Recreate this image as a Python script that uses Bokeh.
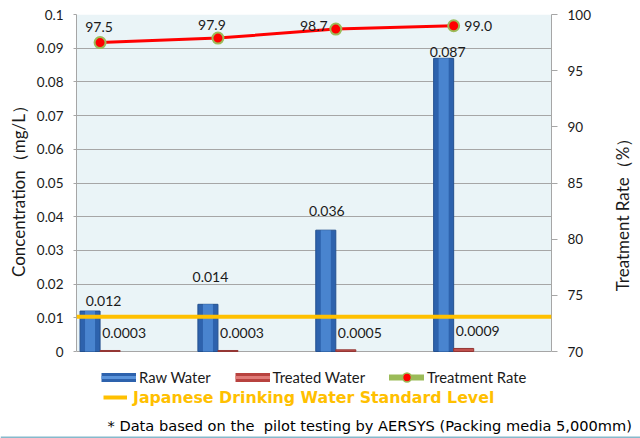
import math
import numpy as np
from bokeh.plotting import figure
from bokeh.layouts import row, column
from bokeh.models import (Range1d, LinearAxis, FixedTicker, CustomJSTickFormatter,
                          ColumnDataSource, Span, Legend, LegendItem, BoxAnnotation, Label)
from bokeh.core.properties import value
from bokeh.embed import file_html
from bokeh.resources import INLINE

# ---------------- data ----------------
groups = [0, 1, 2, 3]
raw_water = [0.012, 0.014, 0.036, 0.087]
treated_water = [0.0003, 0.0003, 0.0005, 0.0009]
treatment_rate = [97.5, 97.9, 98.7, 99.0]
raw_labels = ["0.012", "0.014", "0.036", "0.087"]
treated_labels = ["0.0003", "0.0003", "0.0005", "0.0009"]
rate_labels = ["97.5", "97.9", "98.7", "99.0"]
standard_level = 0.0103
conc_min, conc_max = 0, 0.1
rate_min, rate_max = 70, 100
conc_ticks = [0, 0.01, 0.02, 0.03, 0.04, 0.05, 0.06, 0.07, 0.08, 0.09, 0.1]
rate_ticks = [70, 75, 80, 85, 90, 95, 100]

# ---------------- layout / style ----------------
W, H = 640, 438
SIDE_W = 40
FOOT_H = 28
MAIN_H = H - FOOT_H
TOP, PLOT_BOTTOM, FRAME_BOTTOM = 14, 351, MAIN_H
LEFT, RIGHT = 76, 551
plot_h = PLOT_BOTTOM - TOP
extra = (FRAME_BOTTOM - PLOT_BOTTOM) / plot_h
BAR_W = 0.17
raw_dx = [13.5, 2.5, 1, 4]
raw_dy = [10, 27, 19, 6]
rate_dx = [-1, -6, -22, 24.5]
rate_dy = [16, 13, 3, 0]
CAL = "Lato"
ARI = "DejaVu Sans"
GRID = "#A6A6A6"
INK = "#1a1a1a"

g = np.array(groups, dtype=float)
src = ColumnDataSource(dict(
    x_raw=g - BAR_W / 2, x_tr=g + BAR_W / 2, x=g,
    raw=raw_water, tr=treated_water, rate=treatment_rate,
    raw_lbl=raw_labels, tr_lbl=treated_labels, rate_lbl=rate_labels,
    raw_dx=raw_dx, raw_dy=[-d for d in raw_dy],
    tr_dx=[14] * 4, tr_dy=[-17] * 4,
    rate_dx=rate_dx, rate_dy=[-d for d in rate_dy],
))

y0 = conc_min - (conc_max - conc_min) * extra
r0 = rate_min - (rate_max - rate_min) * extra
MAIN_W = W - SIDE_W
p = figure(width=MAIN_W, height=MAIN_H, output_backend="svg", toolbar_location=None,
           x_range=Range1d(-0.2, 3.83), y_range=Range1d(y0, conc_max), x_axis_location=None,
           min_border_left=LEFT, min_border_right=MAIN_W - RIGHT, min_border_top=TOP,
           min_border_bottom=0)
p.extra_y_ranges = {"rate": Range1d(r0, rate_max)}
p.background_fill_color = "white"
p.border_fill_color = "white"
p.outline_line_color = None
p.xgrid.grid_line_color = None
p.ygrid.grid_line_color = GRID
p.ygrid.ticker = FixedTicker(ticks=conc_ticks)
p.add_layout(BoxAnnotation(bottom=conc_min, top=conc_max, fill_color="#EAF4F7", fill_alpha=1,
                           line_color=None, level="image"))

ya = p.yaxis[0]
ya.ticker = FixedTicker(ticks=conc_ticks)
ya.bounds = (conc_min, conc_max)
ya.formatter = CustomJSTickFormatter(code="return String(Math.round(tick*1000)/1000)")
ya.axis_label = "\u2003" * 4 + "Concentration（mg/L）"
ya.axis_label_standoff = 5
ya.axis_label_text_font = CAL
ya.axis_label_text_font_size = "17px"
ya.axis_label_text_font_style = "normal"
ya.axis_label_text_color = INK

ra = LinearAxis(y_range_name="rate", ticker=FixedTicker(ticks=rate_ticks), bounds=(rate_min, rate_max))
p.add_layout(ra, "right")

for ax, tout in ((ya, 3), (ra, 6)):
    ax.major_tick_out = tout
    ax.major_tick_in = 0
    ax.minor_tick_out = 0
    ax.minor_tick_in = 0
    ax.major_label_standoff = 10
    ax.axis_line_color = GRID
    ax.major_tick_line_color = GRID
    ax.major_label_text_font = CAL
    ax.major_label_text_font_size = "13.5px"
    ax.major_label_text_color = INK

# bars
p.vbar(x="x_raw", top="raw", width=BAR_W, bottom=0, source=src,
       fill_color="#2D62AD", line_color="#24518F", line_width=1)
p.vbar(x="x_raw", top="raw", width=BAR_W * 0.5, bottom=0, source=src,
       fill_color="#4C88D3", line_color=None, fill_alpha=0.9)
p.vbar(x="x_tr", top="tr", width=BAR_W, bottom=0, source=src,
       fill_color="#C0504D", line_color="#943634", line_width=1)

# standard level
p.add_layout(Span(location=standard_level, dimension="width", line_color="#FFC000", line_width=4))

# treatment rate
p.line(x="x", y="rate", source=src, y_range_name="rate", line_color="#FF0000", line_width=3)
p.scatter(x="x", y="rate", source=src, y_range_name="rate", size=11,
          fill_color="#FF0000", line_color="#9BBB59", line_width=2)

txt = dict(text_font=value(CAL), text_font_size="14px", text_color=INK,
           text_align="center", text_baseline="middle")
p.text(x="x_raw", y="raw", text="raw_lbl", x_offset="raw_dx", y_offset="raw_dy", source=src, **txt)
p.text(x="x_tr", y="tr", text="tr_lbl", x_offset="tr_dx", y_offset="tr_dy", source=src, **txt)
p.text(x="x", y="rate", text="rate_lbl", x_offset="rate_dx", y_offset="rate_dy", source=src,
       y_range_name="rate", **txt)

# legend swatches (renderers without visible data)
empty = ColumnDataSource(dict(x=[np.nan], y=[np.nan]))
lw = dict(line_cap="butt")
s_raw1 = p.line(x="x", y="y", source=empty, line_color="#2D62AD", line_width=9, **lw)
s_raw2 = p.line(x="x", y="y", source=empty, line_color="#5B94DB", line_width=3, **lw)
s_tr1 = p.line(x="x", y="y", source=empty, line_color="#B8423F", line_width=9, **lw)
s_tr2 = p.line(x="x", y="y", source=empty, line_color="#E07B78", line_width=3, **lw)
s_rate1 = p.line(x="x", y="y", source=empty, line_color="#9BBB59", line_width=6, line_cap="round")
s_rate2 = p.scatter(x="x", y="y", source=empty, fill_color="#FF0000", line_color="#9BBB59", line_width=1.5)
s_std = p.line(x="x", y="y", source=empty, line_color="#FFC000", line_width=4, **lw)

legA = Legend(items=[LegendItem(label="Raw Water", renderers=[s_raw1, s_raw2]),
                     LegendItem(label="Treated Water", renderers=[s_tr1, s_tr2]),
                     LegendItem(label="Treatment Rate", renderers=[s_rate1, s_rate2])],
              location=(25, 22), glyph_width=35, glyph_height=22, label_height=22,
              label_standoff=3, spacing=24, padding=0, margin=0, border_line_color=None,
              background_fill_alpha=0, label_text_font=CAL, label_text_font_size="14.8px",
              label_text_color=INK, orientation="horizontal")
legC = Legend(items=[LegendItem(label="Japanese Drinking Water Standard Level", renderers=[s_std])],
              location=(27, 3), glyph_width=24, glyph_height=20, label_height=20,
              label_standoff=6, spacing=0, padding=0, margin=0, border_line_color=None,
              background_fill_alpha=0, label_text_font=ARI, label_text_font_size="15.8px",
              label_text_font_style="bold", label_text_color="#FFC000", orientation="horizontal")
p.add_layout(legA, "center")
p.add_layout(legC, "center")

# right-hand title strip (rotated text reading upwards)
side = figure(width=SIDE_W, height=MAIN_H, output_backend="svg", toolbar_location=None,
              x_range=Range1d(0, 1), y_range=Range1d(0, 1),
              x_axis_location=None, y_axis_location=None, min_border=0)
side.grid.visible = False
side.outline_line_color = None
side.background_fill_color = "white"
side.border_fill_color = "white"
side.add_layout(Label(x=622 - MAIN_W, y=200, x_units="screen", y_units="screen",
                      text="Treatment Rate（%）", angle=math.pi / 2,
                      text_align="center", text_baseline="middle",
                      text_font=CAL, text_font_size="17px", text_color=INK))

# footnote strip
foot = figure(width=W, height=FOOT_H, output_backend="svg", toolbar_location=None,
              x_range=Range1d(0, W), y_range=Range1d(0, FOOT_H),
              x_axis_location=None, y_axis_location=None, min_border=0)
foot.grid.visible = False
foot.outline_line_color = None
foot.background_fill_color = "white"
foot.border_fill_color = "white"
foot.add_layout(Label(x=107, y=FOOT_H - (425 - MAIN_H), x_units="screen", y_units="screen",
                      text="* Data based on the \u00a0pilot testing by AERSYS (Packing media 5,000mm)",
                      text_align="left", text_baseline="middle",
                      text_font=ARI, text_font_size="14.6px", text_color="#000000"))
foot.add_layout(Span(location=1, dimension="width", line_color="#86B9CC", line_width=2))

layout = column(row(p, side, spacing=0), foot, spacing=0)
open("out.html", "w").write(file_html(layout, INLINE))
